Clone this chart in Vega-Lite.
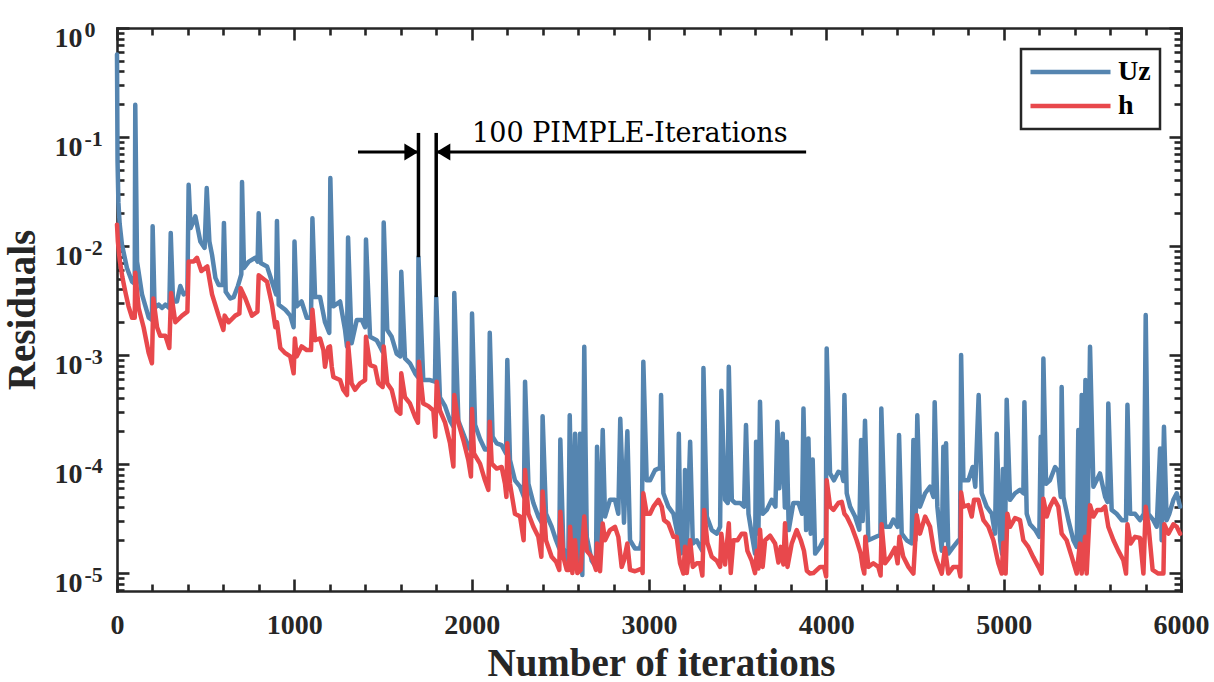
{
"$schema": "https://vega.github.io/schema/vega-lite/v6.json",
"width": 1064, "height": 563,
"autosize": {"type": "none"},
"padding": {"left": 117, "top": 28, "right": 33, "bottom": 91},
"background": "white",
"config": {
 "view": {"stroke": null},
 "axis": {"grid": false, "domainColor": "#262626", "domainWidth": 2.6, "domainCap": "square", "tickColor": "#262626", "tickWidth": 2.6, "labelFont": "Liberation Serif", "labelFontWeight": "bold", "labelFontSize": 28, "labelColor": "#262626", "titleFont": "Liberation Serif", "titleFontWeight": "bold", "titleFontSize": 39, "titleColor": "#262626", "labelFlush": false},
 "legend": {"strokeColor": "#262626", "strokeWidth": 2.5, "fillColor": "white", "padding": 9, "labelFont": "Liberation Serif", "labelFontWeight": "bold", "labelFontSize": 28, "labelColor": "black", "symbolStrokeWidth": 4.5, "symbolType": "M-2.7,0H13.3", "symbolSize": 100, "labelOffset": 60, "rowPadding": 6}
},
"datasets": {
 "res": [
{"i":0,"v":0.57,"s":"Uz"},{"i":3,"v":0.06,"s":"Uz"},{"i":8,"v":0.025,"s":"Uz"},{"i":15,"v":0.016,"s":"Uz"},{"i":28,"v":0.0103,"s":"Uz"},{"i":56,"v":0.0063,"s":"Uz"},{"i":85,"v":0.0047,"s":"Uz"},{"i":100,"v":0.0045,"s":"Uz"},{"i":103,"v":0.198,"s":"Uz"},{"i":113,"v":0.0072,"s":"Uz"},{"i":141,"v":0.0036,"s":"Uz"},{"i":179,"v":0.0022,"s":"Uz"},{"i":197,"v":0.0021,"s":"Uz"},{"i":201,"v":0.0152,"s":"Uz"},{"i":212,"v":0.0027,"s":"Uz"},{"i":235,"v":0.0029,"s":"Uz"},{"i":254,"v":0.0027,"s":"Uz"},{"i":273,"v":0.0029,"s":"Uz"},{"i":295,"v":0.0027,"s":"Uz"},{"i":303,"v":0.0132,"s":"Uz"},{"i":316,"v":0.0031,"s":"Uz"},{"i":338,"v":0.0031,"s":"Uz"},{"i":357,"v":0.0043,"s":"Uz"},{"i":376,"v":0.0036,"s":"Uz"},{"i":397,"v":0.0038,"s":"Uz"},{"i":404,"v":0.0365,"s":"Uz"},{"i":415,"v":0.0146,"s":"Uz"},{"i":442,"v":0.0187,"s":"Uz"},{"i":470,"v":0.011,"s":"Uz"},{"i":494,"v":0.0096,"s":"Uz"},{"i":506,"v":0.034,"s":"Uz"},{"i":521,"v":0.011,"s":"Uz"},{"i":536,"v":0.0083,"s":"Uz"},{"i":555,"v":0.0051,"s":"Uz"},{"i":573,"v":0.0044,"s":"Uz"},{"i":596,"v":0.0044,"s":"Uz"},{"i":603,"v":0.0163,"s":"Uz"},{"i":613,"v":0.0038,"s":"Uz"},{"i":639,"v":0.0033,"s":"Uz"},{"i":658,"v":0.0034,"s":"Uz"},{"i":682,"v":0.0043,"s":"Uz"},{"i":701,"v":0.0055,"s":"Uz"},{"i":705,"v":0.0387,"s":"Uz"},{"i":716,"v":0.0063,"s":"Uz"},{"i":743,"v":0.0072,"s":"Uz"},{"i":780,"v":0.0078,"s":"Uz"},{"i":793,"v":0.0072,"s":"Uz"},{"i":799,"v":0.02,"s":"Uz"},{"i":810,"v":0.007,"s":"Uz"},{"i":846,"v":0.0065,"s":"Uz"},{"i":874,"v":0.0047,"s":"Uz"},{"i":897,"v":0.0036,"s":"Uz"},{"i":902,"v":0.017,"s":"Uz"},{"i":912,"v":0.0029,"s":"Uz"},{"i":949,"v":0.0026,"s":"Uz"},{"i":977,"v":0.0023,"s":"Uz"},{"i":996,"v":0.0018,"s":"Uz"},
{"i":1001,"v":0.011,"s":"Uz"},{"i":1013,"v":0.0028,"s":"Uz"},{"i":1041,"v":0.0031,"s":"Uz"},{"i":1070,"v":0.0022,"s":"Uz"},{"i":1094,"v":0.0022,"s":"Uz"},{"i":1102,"v":0.018,"s":"Uz"},{"i":1117,"v":0.0034,"s":"Uz"},{"i":1145,"v":0.0034,"s":"Uz"},{"i":1173,"v":0.002,"s":"Uz"},{"i":1197,"v":0.0016,"s":"Uz"},{"i":1203,"v":0.042,"s":"Uz"},{"i":1220,"v":0.0028,"s":"Uz"},{"i":1258,"v":0.0031,"s":"Uz"},{"i":1286,"v":0.0017,"s":"Uz"},{"i":1297,"v":0.0012,"s":"Uz"},{"i":1303,"v":0.012,"s":"Uz"},{"i":1323,"v":0.00128,"s":"Uz"},{"i":1352,"v":0.0021,"s":"Uz"},{"i":1380,"v":0.0021,"s":"Uz"},{"i":1399,"v":0.0018,"s":"Uz"},{"i":1404,"v":0.0115,"s":"Uz"},{"i":1427,"v":0.00147,"s":"Uz"},{"i":1464,"v":0.00137,"s":"Uz"},{"i":1483,"v":0.0012,"s":"Uz"},{"i":1498,"v":0.00107,"s":"Uz"},{"i":1504,"v":0.0164,"s":"Uz"},{"i":1524,"v":0.0017,"s":"Uz"},{"i":1549,"v":0.00147,"s":"Uz"},{"i":1577,"v":0.00103,"s":"Uz"},{"i":1598,"v":0.00097,"s":"Uz"},{"i":1603,"v":0.0058,"s":"Uz"},{"i":1624,"v":0.00093,"s":"Uz"},{"i":1652,"v":0.00084,"s":"Uz"},{"i":1681,"v":0.00068,"s":"Uz"},{"i":1696,"v":0.00063,"s":"Uz"},{"i":1700,"v":0.0079,"s":"Uz"},{"i":1727,"v":0.00059,"s":"Uz"},{"i":1765,"v":0.00059,"s":"Uz"},{"i":1793,"v":0.00057,"s":"Uz"},{"i":1800,"v":0.0034,"s":"Uz"},{"i":1821,"v":0.00041,"s":"Uz"},{"i":1850,"v":0.00034,"s":"Uz"},{"i":1878,"v":0.00025,"s":"Uz"},{"i":1897,"v":0.00022,"s":"Uz"},{"i":1902,"v":0.0037,"s":"Uz"},{"i":1925,"v":0.00025,"s":"Uz"},{"i":1953,"v":0.00019,"s":"Uz"},{"i":1981,"v":0.000144,"s":"Uz"},{"i":1996,"v":0.000134,"s":"Uz"},
{"i":2002,"v":0.0024,"s":"Uz"},{"i":2019,"v":0.00023,"s":"Uz"},{"i":2047,"v":0.00017,"s":"Uz"},{"i":2075,"v":0.000136,"s":"Uz"},{"i":2096,"v":0.000136,"s":"Uz"},{"i":2102,"v":0.0016,"s":"Uz"},{"i":2118,"v":0.000178,"s":"Uz"},{"i":2141,"v":0.000155,"s":"Uz"},{"i":2169,"v":0.000149,"s":"Uz"},{"i":2194,"v":0.000125,"s":"Uz"},{"i":2201,"v":0.0009,"s":"Uz"},{"i":2216,"v":0.000109,"s":"Uz"},{"i":2244,"v":0.000071,"s":"Uz"},{"i":2273,"v":0.000062,"s":"Uz"},{"i":2295,"v":0.00005,"s":"Uz"},{"i":2301,"v":0.00057,"s":"Uz"},{"i":2320,"v":0.000066,"s":"Uz"},{"i":2348,"v":0.000044,"s":"Uz"},{"i":2376,"v":0.000033,"s":"Uz"},{"i":2395,"v":0.000029,"s":"Uz"},{"i":2400,"v":0.000275,"s":"Uz"},{"i":2419,"v":0.000035,"s":"Uz"},{"i":2451,"v":0.0000266,"s":"Uz"},{"i":2476,"v":0.00002,"s":"Uz"},{"i":2494,"v":0.0000168,"s":"Uz"},{"i":2500,"v":0.000168,"s":"Uz"},{"i":2517,"v":0.000017,"s":"Uz"},{"i":2545,"v":0.000013,"s":"Uz"},{"i":2553,"v":0.00028,"s":"Uz"},{"i":2568,"v":0.000014,"s":"Uz"},{"i":2583,"v":0.00019,"s":"Uz"},{"i":2596,"v":0.0000107,"s":"Uz"},{"i":2611,"v":0.00019,"s":"Uz"},{"i":2624,"v":0.0000096,"s":"Uz"},{"i":2635,"v":0.00119,"s":"Uz"},{"i":2649,"v":0.0000215,"s":"Uz"},{"i":2677,"v":0.000013,"s":"Uz"},{"i":2701,"v":0.0000114,"s":"Uz"},{"i":2707,"v":0.000144,"s":"Uz"},{"i":2724,"v":0.000016,"s":"Uz"},{"i":2739,"v":0.000205,"s":"Uz"},{"i":2752,"v":0.000033,"s":"Uz"},{"i":2780,"v":0.000047,"s":"Uz"},{"i":2808,"v":0.000047,"s":"Uz"},{"i":2827,"v":0.000035,"s":"Uz"},{"i":2838,"v":0.00026,"s":"Uz"},{"i":2859,"v":0.000029,"s":"Uz"},{"i":2878,"v":0.0002,"s":"Uz"},{"i":2893,"v":0.00002,"s":"Uz"},{"i":2921,"v":0.0000168,"s":"Uz"},{"i":2949,"v":0.0000168,"s":"Uz"},{"i":2959,"v":0.00002,"s":"Uz"},{"i":2968,"v":0.00087,"s":"Uz"},{"i":2987,"v":0.000071,"s":"Uz"},
{"i":3006,"v":0.000071,"s":"Uz"},{"i":3034,"v":0.000088,"s":"Uz"},{"i":3053,"v":0.000091,"s":"Uz"},{"i":3062,"v":0.000091,"s":"Uz"},{"i":3068,"v":0.00043,"s":"Uz"},{"i":3081,"v":0.000054,"s":"Uz"},{"i":3109,"v":0.0000407,"s":"Uz"},{"i":3138,"v":0.000035,"s":"Uz"},{"i":3160,"v":0.000023,"s":"Uz"},{"i":3168,"v":0.00019,"s":"Uz"},{"i":3179,"v":0.0000151,"s":"Uz"},{"i":3198,"v":0.000016,"s":"Uz"},{"i":3203,"v":0.000088,"s":"Uz"},{"i":3213,"v":0.000016,"s":"Uz"},{"i":3232,"v":0.00016,"s":"Uz"},{"i":3247,"v":0.0000187,"s":"Uz"},{"i":3269,"v":0.00002,"s":"Uz"},{"i":3288,"v":0.0000174,"s":"Uz"},{"i":3301,"v":0.000016,"s":"Uz"},{"i":3307,"v":0.00076,"s":"Uz"},{"i":3326,"v":0.000033,"s":"Uz"},{"i":3354,"v":0.0000248,"s":"Uz"},{"i":3382,"v":0.000023,"s":"Uz"},{"i":3401,"v":0.0000266,"s":"Uz"},{"i":3408,"v":0.00047,"s":"Uz"},{"i":3429,"v":0.000047,"s":"Uz"},{"i":3444,"v":0.000044,"s":"Uz"},{"i":3450,"v":0.00078,"s":"Uz"},{"i":3467,"v":0.000047,"s":"Uz"},{"i":3485,"v":0.000044,"s":"Uz"},{"i":3514,"v":0.000044,"s":"Uz"},{"i":3536,"v":0.0000407,"s":"Uz"},{"i":3547,"v":0.000228,"s":"Uz"},{"i":3561,"v":0.000035,"s":"Uz"},{"i":3579,"v":0.000023,"s":"Uz"},{"i":3598,"v":0.0000151,"s":"Uz"},{"i":3604,"v":0.00016,"s":"Uz"},{"i":3617,"v":0.000023,"s":"Uz"},{"i":3626,"v":0.000373,"s":"Uz"},{"i":3641,"v":0.000035,"s":"Uz"},{"i":3664,"v":0.000038,"s":"Uz"},{"i":3692,"v":0.000047,"s":"Uz"},{"i":3713,"v":0.0000407,"s":"Uz"},{"i":3724,"v":0.000244,"s":"Uz"},{"i":3735,"v":0.00006,"s":"Uz"},{"i":3754,"v":0.00019,"s":"Uz"},{"i":3766,"v":0.00004,"s":"Uz"},{"i":3777,"v":0.00016,"s":"Uz"},{"i":3788,"v":0.0000248,"s":"Uz"},{"i":3814,"v":0.000044,"s":"Uz"},{"i":3843,"v":0.000044,"s":"Uz"},{"i":3863,"v":0.000035,"s":"Uz"},{"i":3871,"v":0.000324,"s":"Uz"},{"i":3886,"v":0.0000248,"s":"Uz"},{"i":3899,"v":0.000172,"s":"Uz"},{"i":3912,"v":0.000023,"s":"Uz"},{"i":3923,"v":0.00011,"s":"Uz"},{"i":3937,"v":0.0000151,"s":"Uz"},{"i":3965,"v":0.0000174,"s":"Uz"},{"i":3984,"v":0.00002,"s":"Uz"},{"i":3997,"v":0.00002,"s":"Uz"},
{"i":4002,"v":0.00115,"s":"Uz"},{"i":4021,"v":0.000082,"s":"Uz"},{"i":4043,"v":0.000071,"s":"Uz"},{"i":4068,"v":0.000085,"s":"Uz"},{"i":4087,"v":0.000082,"s":"Uz"},{"i":4096,"v":0.00007,"s":"Uz"},{"i":4102,"v":0.00043,"s":"Uz"},{"i":4115,"v":0.000054,"s":"Uz"},{"i":4134,"v":0.0000407,"s":"Uz"},{"i":4162,"v":0.000033,"s":"Uz"},{"i":4186,"v":0.000025,"s":"Uz"},{"i":4196,"v":0.000166,"s":"Uz"},{"i":4205,"v":0.00003,"s":"Uz"},{"i":4218,"v":0.00025,"s":"Uz"},{"i":4237,"v":0.00002,"s":"Uz"},{"i":4265,"v":0.000021,"s":"Uz"},{"i":4293,"v":0.000022,"s":"Uz"},{"i":4305,"v":0.000022,"s":"Uz"},{"i":4310,"v":0.000324,"s":"Uz"},{"i":4331,"v":0.0000266,"s":"Uz"},{"i":4359,"v":0.0000266,"s":"Uz"},{"i":4378,"v":0.000031,"s":"Uz"},{"i":4402,"v":0.0000266,"s":"Uz"},{"i":4410,"v":0.000185,"s":"Uz"},{"i":4425,"v":0.000023,"s":"Uz"},{"i":4453,"v":0.00002,"s":"Uz"},{"i":4481,"v":0.0000187,"s":"Uz"},{"i":4491,"v":0.000166,"s":"Uz"},{"i":4502,"v":0.00002,"s":"Uz"},{"i":4513,"v":0.00028,"s":"Uz"},{"i":4528,"v":0.0000407,"s":"Uz"},{"i":4557,"v":0.000054,"s":"Uz"},{"i":4585,"v":0.000062,"s":"Uz"},{"i":4604,"v":0.00005,"s":"Uz"},{"i":4611,"v":0.00037,"s":"Uz"},{"i":4626,"v":0.0000407,"s":"Uz"},{"i":4651,"v":0.000016,"s":"Uz"},{"i":4660,"v":0.000144,"s":"Uz"},{"i":4667,"v":0.00002,"s":"Uz"},{"i":4675,"v":0.000155,"s":"Uz"},{"i":4688,"v":0.0000151,"s":"Uz"},{"i":4716,"v":0.0000174,"s":"Uz"},{"i":4745,"v":0.00002,"s":"Uz"},{"i":4754,"v":0.00002,"s":"Uz"},{"i":4760,"v":0.001,"s":"Uz"},{"i":4773,"v":0.000071,"s":"Uz"},{"i":4801,"v":0.000071,"s":"Uz"},{"i":4825,"v":0.000094,"s":"Uz"},{"i":4840,"v":0.000062,"s":"Uz"},{"i":4859,"v":0.00043,"s":"Uz"},{"i":4876,"v":0.000054,"s":"Uz"},{"i":4904,"v":0.0000407,"s":"Uz"},{"i":4933,"v":0.000035,"s":"Uz"},{"i":4951,"v":0.000023,"s":"Uz"},{"i":4961,"v":0.00019,"s":"Uz"},{"i":4980,"v":0.00002,"s":"Uz"},{"i":4991,"v":0.000015,"s":"Uz"},{"i":4996,"v":0.00009,"s":"Uz"},
{"i":5008,"v":0.00002,"s":"Uz"},{"i":5017,"v":0.00039,"s":"Uz"},{"i":5036,"v":0.000047,"s":"Uz"},{"i":5064,"v":0.000054,"s":"Uz"},{"i":5092,"v":0.000058,"s":"Uz"},{"i":5111,"v":0.000054,"s":"Uz"},{"i":5117,"v":0.00037,"s":"Uz"},{"i":5130,"v":0.000035,"s":"Uz"},{"i":5149,"v":0.000028,"s":"Uz"},{"i":5177,"v":0.000025,"s":"Uz"},{"i":5201,"v":0.0000215,"s":"Uz"},{"i":5209,"v":0.000178,"s":"Uz"},{"i":5216,"v":0.00003,"s":"Uz"},{"i":5224,"v":0.00093,"s":"Uz"},{"i":5239,"v":0.000066,"s":"Uz"},{"i":5261,"v":0.000071,"s":"Uz"},{"i":5290,"v":0.000094,"s":"Uz"},{"i":5308,"v":0.000086,"s":"Uz"},{"i":5322,"v":0.00005,"s":"Uz"},{"i":5327,"v":0.00051,"s":"Uz"},{"i":5337,"v":0.00005,"s":"Uz"},{"i":5365,"v":0.0000306,"s":"Uz"},{"i":5393,"v":0.00002,"s":"Uz"},{"i":5412,"v":0.0000174,"s":"Uz"},{"i":5421,"v":0.000205,"s":"Uz"},{"i":5430,"v":0.000016,"s":"Uz"},{"i":5440,"v":0.00043,"s":"Uz"},{"i":5450,"v":0.000018,"s":"Uz"},{"i":5461,"v":0.00059,"s":"Uz"},{"i":5472,"v":0.000018,"s":"Uz"},{"i":5487,"v":0.00119,"s":"Uz"},{"i":5506,"v":0.000062,"s":"Uz"},{"i":5543,"v":0.000082,"s":"Uz"},{"i":5572,"v":0.00005,"s":"Uz"},{"i":5585,"v":0.000045,"s":"Uz"},{"i":5590,"v":0.00036,"s":"Uz"},{"i":5609,"v":0.000038,"s":"Uz"},{"i":5637,"v":0.000035,"s":"Uz"},{"i":5666,"v":0.0000306,"s":"Uz"},{"i":5690,"v":0.0000306,"s":"Uz"},{"i":5698,"v":0.00035,"s":"Uz"},{"i":5713,"v":0.000035,"s":"Uz"},{"i":5741,"v":0.000035,"s":"Uz"},{"i":5769,"v":0.0000306,"s":"Uz"},{"i":5791,"v":0.000035,"s":"Uz"},{"i":5801,"v":0.00233,"s":"Uz"},{"i":5816,"v":0.000035,"s":"Uz"},{"i":5844,"v":0.0000306,"s":"Uz"},{"i":5863,"v":0.0000266,"s":"Uz"},{"i":5882,"v":0.000139,"s":"Uz"},{"i":5891,"v":0.00002,"s":"Uz"},{"i":5904,"v":0.00022,"s":"Uz"},{"i":5919,"v":0.0000306,"s":"Uz"},{"i":5934,"v":0.000035,"s":"Uz"},{"i":5957,"v":0.000047,"s":"Uz"},{"i":5976,"v":0.000054,"s":"Uz"},{"i":5995,"v":0.0000407,"s":"Uz"},
{"i":0,"v":0.0157,"s":"h"},{"i":5,"v":0.011,"s":"h"},{"i":15,"v":0.0075,"s":"h"},{"i":30,"v":0.0052,"s":"h"},{"i":47,"v":0.0038,"s":"h"},{"i":65,"v":0.0028,"s":"h"},{"i":85,"v":0.0022,"s":"h"},{"i":100,"v":0.0022,"s":"h"},{"i":103,"v":0.0057,"s":"h"},{"i":122,"v":0.0027,"s":"h"},{"i":150,"v":0.0018,"s":"h"},{"i":179,"v":0.00104,"s":"h"},{"i":197,"v":0.00084,"s":"h"},{"i":205,"v":0.0033,"s":"h"},{"i":226,"v":0.0018,"s":"h"},{"i":244,"v":0.0015,"s":"h"},{"i":273,"v":0.0015,"s":"h"},{"i":295,"v":0.00116,"s":"h"},{"i":305,"v":0.0037,"s":"h"},{"i":329,"v":0.002,"s":"h"},{"i":367,"v":0.0023,"s":"h"},{"i":397,"v":0.0025,"s":"h"},{"i":404,"v":0.0072,"s":"h"},{"i":432,"v":0.0072,"s":"h"},{"i":451,"v":0.0078,"s":"h"},{"i":476,"v":0.0059,"s":"h"},{"i":498,"v":0.0063,"s":"h"},{"i":509,"v":0.0065,"s":"h"},{"i":536,"v":0.0036,"s":"h"},{"i":573,"v":0.0023,"s":"h"},{"i":600,"v":0.0017,"s":"h"},{"i":607,"v":0.0023,"s":"h"},{"i":630,"v":0.002,"s":"h"},{"i":667,"v":0.0023,"s":"h"},{"i":690,"v":0.0024,"s":"h"},{"i":697,"v":0.0041,"s":"h"},{"i":724,"v":0.0033,"s":"h"},{"i":761,"v":0.0023,"s":"h"},{"i":792,"v":0.0025,"s":"h"},{"i":799,"v":0.0054,"s":"h"},{"i":846,"v":0.0047,"s":"h"},{"i":874,"v":0.0029,"s":"h"},{"i":893,"v":0.0018,"s":"h"},{"i":902,"v":0.002,"s":"h"},{"i":921,"v":0.00116,"s":"h"},{"i":949,"v":0.00104,"s":"h"},{"i":977,"v":0.00097,"s":"h"},{"i":996,"v":0.00068,"s":"h"},
{"i":1003,"v":0.00142,"s":"h"},{"i":1013,"v":0.00097,"s":"h"},{"i":1041,"v":0.0012,"s":"h"},{"i":1070,"v":0.00111,"s":"h"},{"i":1094,"v":0.00111,"s":"h"},{"i":1102,"v":0.0026,"s":"h"},{"i":1117,"v":0.00137,"s":"h"},{"i":1145,"v":0.00142,"s":"h"},{"i":1164,"v":0.00111,"s":"h"},{"i":1173,"v":0.00078,"s":"h"},{"i":1192,"v":0.00118,"s":"h"},{"i":1201,"v":0.0012,"s":"h"},{"i":1211,"v":0.00078,"s":"h"},{"i":1220,"v":0.00063,"s":"h"},{"i":1258,"v":0.00059,"s":"h"},{"i":1276,"v":0.00048,"s":"h"},{"i":1297,"v":0.00043,"s":"h"},{"i":1303,"v":0.00128,"s":"h"},{"i":1323,"v":0.00055,"s":"h"},{"i":1342,"v":0.00048,"s":"h"},{"i":1370,"v":0.00055,"s":"h"},{"i":1399,"v":0.00059,"s":"h"},{"i":1404,"v":0.00147,"s":"h"},{"i":1427,"v":0.00081,"s":"h"},{"i":1455,"v":0.00078,"s":"h"},{"i":1474,"v":0.00055,"s":"h"},{"i":1498,"v":0.00051,"s":"h"},{"i":1504,"v":0.0012,"s":"h"},{"i":1524,"v":0.00055,"s":"h"},{"i":1549,"v":0.00048,"s":"h"},{"i":1577,"v":0.00031,"s":"h"},{"i":1598,"v":0.00029,"s":"h"},{"i":1603,"v":0.00068,"s":"h"},{"i":1624,"v":0.00041,"s":"h"},{"i":1652,"v":0.00036,"s":"h"},{"i":1681,"v":0.00027,"s":"h"},{"i":1697,"v":0.00024,"s":"h"},{"i":1703,"v":0.00087,"s":"h"},{"i":1727,"v":0.00036,"s":"h"},{"i":1756,"v":0.00034,"s":"h"},{"i":1784,"v":0.00031,"s":"h"},{"i":1795,"v":0.000178,"s":"h"},{"i":1803,"v":0.00057,"s":"h"},{"i":1821,"v":0.00031,"s":"h"},{"i":1850,"v":0.00024,"s":"h"},{"i":1878,"v":0.000155,"s":"h"},{"i":1897,"v":0.000095,"s":"h"},{"i":1902,"v":0.00043,"s":"h"},{"i":1925,"v":0.00024,"s":"h"},{"i":1953,"v":0.000166,"s":"h"},{"i":1981,"v":0.000109,"s":"h"},{"i":1996,"v":0.000077,"s":"h"},
{"i":2002,"v":0.00032,"s":"h"},{"i":2013,"v":0.000125,"s":"h"},{"i":2047,"v":0.000101,"s":"h"},{"i":2075,"v":0.000071,"s":"h"},{"i":2094,"v":0.000058,"s":"h"},{"i":2102,"v":0.000245,"s":"h"},{"i":2113,"v":0.000101,"s":"h"},{"i":2141,"v":0.000091,"s":"h"},{"i":2169,"v":0.000094,"s":"h"},{"i":2188,"v":0.000066,"s":"h"},{"i":2196,"v":0.00005,"s":"h"},{"i":2201,"v":0.000155,"s":"h"},{"i":2216,"v":0.000066,"s":"h"},{"i":2244,"v":0.000035,"s":"h"},{"i":2273,"v":0.000033,"s":"h"},{"i":2293,"v":0.00002,"s":"h"},{"i":2301,"v":0.000088,"s":"h"},{"i":2320,"v":0.000035,"s":"h"},{"i":2348,"v":0.0000266,"s":"h"},{"i":2376,"v":0.0000215,"s":"h"},{"i":2393,"v":0.0000141,"s":"h"},{"i":2400,"v":0.000056,"s":"h"},{"i":2419,"v":0.00002,"s":"h"},{"i":2451,"v":0.0000141,"s":"h"},{"i":2476,"v":0.0000127,"s":"h"},{"i":2494,"v":0.0000107,"s":"h"},{"i":2500,"v":0.0000366,"s":"h"},{"i":2517,"v":0.0000141,"s":"h"},{"i":2536,"v":0.0000107,"s":"h"},{"i":2549,"v":0.0000107,"s":"h"},{"i":2555,"v":0.0000266,"s":"h"},{"i":2568,"v":0.00001,"s":"h"},{"i":2583,"v":0.00002,"s":"h"},{"i":2596,"v":0.00001,"s":"h"},{"i":2615,"v":0.0000107,"s":"h"},{"i":2635,"v":0.000033,"s":"h"},{"i":2649,"v":0.000016,"s":"h"},{"i":2677,"v":0.0000141,"s":"h"},{"i":2701,"v":0.0000107,"s":"h"},{"i":2707,"v":0.0000187,"s":"h"},{"i":2724,"v":0.0000104,"s":"h"},{"i":2739,"v":0.0000285,"s":"h"},{"i":2752,"v":0.00002,"s":"h"},{"i":2780,"v":0.0000248,"s":"h"},{"i":2808,"v":0.0000266,"s":"h"},{"i":2827,"v":0.0000215,"s":"h"},{"i":2846,"v":0.0000114,"s":"h"},{"i":2859,"v":0.0000131,"s":"h"},{"i":2878,"v":0.0000187,"s":"h"},{"i":2893,"v":0.0000107,"s":"h"},{"i":2921,"v":0.0000104,"s":"h"},{"i":2959,"v":0.000011,"s":"h"},{"i":2964,"v":0.00001,"s":"h"},{"i":2968,"v":0.000054,"s":"h"},{"i":2987,"v":0.000035,"s":"h"},
{"i":3006,"v":0.000035,"s":"h"},{"i":3025,"v":0.0000407,"s":"h"},{"i":3053,"v":0.000047,"s":"h"},{"i":3072,"v":0.0000407,"s":"h"},{"i":3085,"v":0.0000306,"s":"h"},{"i":3109,"v":0.0000286,"s":"h"},{"i":3138,"v":0.0000215,"s":"h"},{"i":3156,"v":0.0000215,"s":"h"},{"i":3175,"v":0.0000123,"s":"h"},{"i":3194,"v":0.0000099,"s":"h"},{"i":3203,"v":0.0000174,"s":"h"},{"i":3213,"v":0.00001,"s":"h"},{"i":3232,"v":0.00002,"s":"h"},{"i":3247,"v":0.0000114,"s":"h"},{"i":3269,"v":0.0000123,"s":"h"},{"i":3288,"v":0.0000123,"s":"h"},{"i":3301,"v":0.0000095,"s":"h"},{"i":3311,"v":0.000038,"s":"h"},{"i":3329,"v":0.000019,"s":"h"},{"i":3354,"v":0.0000141,"s":"h"},{"i":3382,"v":0.000013,"s":"h"},{"i":3401,"v":0.0000114,"s":"h"},{"i":3408,"v":0.000023,"s":"h"},{"i":3429,"v":0.000012,"s":"h"},{"i":3450,"v":0.0000286,"s":"h"},{"i":3461,"v":0.00001,"s":"h"},{"i":3476,"v":0.00002,"s":"h"},{"i":3499,"v":0.00002,"s":"h"},{"i":3523,"v":0.000023,"s":"h"},{"i":3542,"v":0.000023,"s":"h"},{"i":3555,"v":0.000016,"s":"h"},{"i":3579,"v":0.000013,"s":"h"},{"i":3598,"v":0.00001,"s":"h"},{"i":3608,"v":0.000016,"s":"h"},{"i":3617,"v":0.000011,"s":"h"},{"i":3626,"v":0.000025,"s":"h"},{"i":3641,"v":0.0000114,"s":"h"},{"i":3655,"v":0.00002,"s":"h"},{"i":3683,"v":0.000022,"s":"h"},{"i":3711,"v":0.0000187,"s":"h"},{"i":3730,"v":0.0000125,"s":"h"},{"i":3743,"v":0.0000174,"s":"h"},{"i":3758,"v":0.000012,"s":"h"},{"i":3767,"v":0.0000286,"s":"h"},{"i":3781,"v":0.0000114,"s":"h"},{"i":3805,"v":0.0000187,"s":"h"},{"i":3833,"v":0.0000248,"s":"h"},{"i":3856,"v":0.00002,"s":"h"},{"i":3874,"v":0.000016,"s":"h"},{"i":3890,"v":0.0000105,"s":"h"},{"i":3908,"v":0.0000099,"s":"h"},{"i":3927,"v":0.00001,"s":"h"},{"i":3965,"v":0.0000114,"s":"h"},{"i":3987,"v":0.0000114,"s":"h"},{"i":3999,"v":0.0000093,"s":"h"},
{"i":4002,"v":0.000071,"s":"h"},{"i":4021,"v":0.0000407,"s":"h"},{"i":4040,"v":0.000038,"s":"h"},{"i":4068,"v":0.000044,"s":"h"},{"i":4087,"v":0.000045,"s":"h"},{"i":4102,"v":0.000035,"s":"h"},{"i":4115,"v":0.000033,"s":"h"},{"i":4143,"v":0.0000266,"s":"h"},{"i":4171,"v":0.00002,"s":"h"},{"i":4194,"v":0.0000151,"s":"h"},{"i":4205,"v":0.0000114,"s":"h"},{"i":4214,"v":0.0000099,"s":"h"},{"i":4220,"v":0.0000215,"s":"h"},{"i":4237,"v":0.0000114,"s":"h"},{"i":4265,"v":0.0000123,"s":"h"},{"i":4293,"v":0.0000114,"s":"h"},{"i":4306,"v":0.0000095,"s":"h"},{"i":4312,"v":0.000028,"s":"h"},{"i":4331,"v":0.0000123,"s":"h"},{"i":4359,"v":0.0000141,"s":"h"},{"i":4387,"v":0.000017,"s":"h"},{"i":4402,"v":0.0000123,"s":"h"},{"i":4412,"v":0.0000215,"s":"h"},{"i":4434,"v":0.0000141,"s":"h"},{"i":4463,"v":0.0000114,"s":"h"},{"i":4491,"v":0.0000099,"s":"h"},{"i":4510,"v":0.000034,"s":"h"},{"i":4528,"v":0.000023,"s":"h"},{"i":4557,"v":0.000033,"s":"h"},{"i":4585,"v":0.0000266,"s":"h"},{"i":4607,"v":0.000016,"s":"h"},{"i":4622,"v":0.0000131,"s":"h"},{"i":4651,"v":0.0000099,"s":"h"},{"i":4669,"v":0.000017,"s":"h"},{"i":4688,"v":0.0000099,"s":"h"},{"i":4716,"v":0.0000114,"s":"h"},{"i":4745,"v":0.0000114,"s":"h"},{"i":4756,"v":0.0000093,"s":"h"},{"i":4760,"v":0.000055,"s":"h"},{"i":4773,"v":0.0000407,"s":"h"},{"i":4801,"v":0.000042,"s":"h"},{"i":4820,"v":0.000033,"s":"h"},{"i":4833,"v":0.000047,"s":"h"},{"i":4857,"v":0.000047,"s":"h"},{"i":4886,"v":0.0000306,"s":"h"},{"i":4914,"v":0.0000266,"s":"h"},{"i":4942,"v":0.00002,"s":"h"},{"i":4970,"v":0.0000123,"s":"h"},{"i":4989,"v":0.0000099,"s":"h"},{"i":4998,"v":0.000019,"s":"h"},
{"i":5011,"v":0.0000099,"s":"h"},{"i":5021,"v":0.000035,"s":"h"},{"i":5036,"v":0.0000266,"s":"h"},{"i":5064,"v":0.000032,"s":"h"},{"i":5092,"v":0.0000306,"s":"h"},{"i":5111,"v":0.00002,"s":"h"},{"i":5139,"v":0.0000174,"s":"h"},{"i":5167,"v":0.000014,"s":"h"},{"i":5196,"v":0.0000114,"s":"h"},{"i":5214,"v":0.0000099,"s":"h"},{"i":5224,"v":0.000048,"s":"h"},{"i":5243,"v":0.000033,"s":"h"},{"i":5261,"v":0.0000407,"s":"h"},{"i":5284,"v":0.000048,"s":"h"},{"i":5308,"v":0.0000407,"s":"h"},{"i":5327,"v":0.000023,"s":"h"},{"i":5355,"v":0.00002,"s":"h"},{"i":5384,"v":0.0000141,"s":"h"},{"i":5412,"v":0.0000099,"s":"h"},{"i":5430,"v":0.0000187,"s":"h"},{"i":5440,"v":0.0000099,"s":"h"},{"i":5459,"v":0.0000215,"s":"h"},{"i":5468,"v":0.0000099,"s":"h"},{"i":5487,"v":0.000042,"s":"h"},{"i":5506,"v":0.000033,"s":"h"},{"i":5528,"v":0.000038,"s":"h"},{"i":5553,"v":0.000038,"s":"h"},{"i":5572,"v":0.0000407,"s":"h"},{"i":5590,"v":0.0000266,"s":"h"},{"i":5619,"v":0.00002,"s":"h"},{"i":5647,"v":0.000016,"s":"h"},{"i":5675,"v":0.0000131,"s":"h"},{"i":5690,"v":0.0000099,"s":"h"},{"i":5698,"v":0.000028,"s":"h"},{"i":5716,"v":0.0000187,"s":"h"},{"i":5741,"v":0.0000215,"s":"h"},{"i":5769,"v":0.000021,"s":"h"},{"i":5788,"v":0.0000099,"s":"h"},{"i":5801,"v":0.0000407,"s":"h"},{"i":5816,"v":0.000028,"s":"h"},{"i":5840,"v":0.0000107,"s":"h"},{"i":5872,"v":0.0000099,"s":"h"},{"i":5901,"v":0.0000099,"s":"h"},{"i":5906,"v":0.000028,"s":"h"},{"i":5929,"v":0.000023,"s":"h"},{"i":5957,"v":0.000028,"s":"h"},{"i":5976,"v":0.0000266,"s":"h"},{"i":5995,"v":0.000023,"s":"h"}
 ],
 "hline": [{"a": 1359, "b": 1700, "y": 0.0729}, {"a": 1800, "b": 3886, "y": 0.0729}],
 "vline": [{"x": 1700, "y1": 0.109, "y2": 0.0079}, {"x": 1800, "y1": 0.109, "y2": 0.0034}],
 "arrows": [{"x": 1660, "y": 0.0729, "d": "r"}, {"x": 1840, "y": 0.0729, "d": "l"}],
 "note": [{"x": 2002, "y": 0.0898, "t": "100 PIMPLE-Iterations"}]
},
"resolve": {"axis": {"x": "independent", "y": "independent"}},
"layer": [
 {
  "data": {"name": "res"},
  "transform": [{"filter": "datum.s === 'Uz'"}],
  "mark": {"type": "line", "strokeWidth": 4.5, "strokeJoin": "round", "strokeCap": "round"},
  "encoding": {
   "x": {"field": "i", "type": "quantitative", "scale": {"domain": [0, 6000], "nice": false, "zero": false},
    "axis": {"orient": "bottom", "values": [0, 1000, 2000, 3000, 4000, 5000, 6000], "ticks": false, "domain": true, "format": "d", "labelBaseline": "alphabetic", "labelPadding": 42, "title": "Number of iterations", "titlePadding": 5, "titleX": 544}},
   "y": {"field": "v", "type": "quantitative", "scale": {"type": "log", "domain": [0.00000685, 1], "nice": false},
    "axis": {"orient": "left", "values": [0.00001, 0.0001, 0.001, 0.01, 0.1, 1], "ticks": false, "domain": true, "labelAlign": "right", "labelBaseline": "alphabetic", "labelOffset": 18, "labelPadding": 35, "labelExpr": "'10'", "title": "Residuals", "titlePadding": 12}},
   "color": {"field": "s", "type": "nominal", "scale": {"domain": ["Uz", "h"], "range": ["#5585B0", "#E8484C"]}, "legend": {"title": null, "orient": "none", "legendX": 904, "legendY": 21}}
  }
 },
 {
  "data": {"name": "res"},
  "transform": [{"filter": "datum.s === 'h'"}],
  "mark": {"type": "line", "strokeWidth": 4.5, "strokeJoin": "round", "strokeCap": "round"},
  "encoding": {
   "x": {"field": "i", "type": "quantitative", "axis": {"orient": "bottom", "values": [0, 1000, 2000, 3000, 4000, 5000, 6000], "tickSize": -12, "labels": false, "domain": false, "title": null}},
   "y": {"field": "v", "type": "quantitative", "axis": {"orient": "left", "values": [0.00001, 0.0001, 0.001, 0.01, 0.1, 1], "tickSize": -12, "labels": false, "domain": false, "title": null}},
   "color": {"field": "s", "type": "nominal", "scale": {"domain": ["Uz", "h"], "range": ["#5585B0", "#E8484C"]}, "legend": {"title": null, "orient": "none", "legendX": 904, "legendY": 21}}
  }
 },
 {
  "data": {"name": "hline"},
  "mark": {"type": "rule", "color": "black", "strokeWidth": 3},
  "encoding": {
   "x": {"field": "a", "type": "quantitative", "axis": {"orient": "top", "values": [0, 1000, 2000, 3000, 4000, 5000, 6000], "tickSize": -12, "labels": false, "domain": true, "title": null}},
   "x2": {"field": "b"},
   "y": {"field": "y", "type": "quantitative", "axis": {"orient": "right", "values": [0.00001, 0.0001, 0.001, 0.01, 0.1, 1], "tickSize": -12, "labels": false, "domain": true, "title": null}}
  }
 },
 {
  "data": {"name": "vline"},
  "mark": {"type": "rule", "color": "black", "strokeWidth": 3.5},
  "encoding": {
   "x": {"field": "x", "type": "quantitative", "axis": {"orient": "bottom", "values": [200, 400, 600, 800, 1200, 1400, 1600, 1800, 2200, 2400, 2600, 2800, 3200, 3400, 3600, 3800, 4200, 4400, 4600, 4800, 5200, 5400, 5600, 5800], "tickSize": -7, "labels": false, "domain": false, "title": null}},
   "y": {"field": "y1", "type": "quantitative", "axis": {"orient": "left", "values": [0.000007, 0.000008, 0.000009, 0.00002, 0.00003, 0.00004, 0.00005, 0.00006, 0.00007, 0.00008, 0.00009, 0.0002, 0.0003, 0.0004, 0.0005, 0.0006, 0.0007, 0.0008, 0.0009, 0.002, 0.003, 0.004, 0.005, 0.006, 0.007, 0.008, 0.009, 0.02, 0.03, 0.04, 0.05, 0.06, 0.07, 0.08, 0.09, 0.2, 0.3, 0.4, 0.5, 0.6, 0.7, 0.8, 0.9], "tickSize": -7, "labels": false, "domain": false, "title": null}},
   "y2": {"field": "y2"}
  }
 },
 {
  "data": {"name": "arrows"},
  "mark": {"type": "point", "filled": true, "color": "black", "opacity": 1, "size": 196},
  "encoding": {
   "x": {"field": "x", "type": "quantitative", "axis": {"orient": "top", "values": [200, 400, 600, 800, 1200, 1400, 1600, 1800, 2200, 2400, 2600, 2800, 3200, 3400, 3600, 3800, 4200, 4400, 4600, 4800, 5200, 5400, 5600, 5800], "tickSize": -7, "labels": false, "domain": false, "title": null}},
   "y": {"field": "y", "type": "quantitative", "axis": {"orient": "right", "values": [0.000007, 0.000008, 0.000009, 0.00002, 0.00003, 0.00004, 0.00005, 0.00006, 0.00007, 0.00008, 0.00009, 0.0002, 0.0003, 0.0004, 0.0005, 0.0006, 0.0007, 0.0008, 0.0009, 0.002, 0.003, 0.004, 0.005, 0.006, 0.007, 0.008, 0.009, 0.02, 0.03, 0.04, 0.05, 0.06, 0.07, 0.08, 0.09, 0.2, 0.3, 0.4, 0.5, 0.6, 0.7, 0.8, 0.9], "tickSize": -7, "labels": false, "domain": false, "title": null}},
   "shape": {"field": "d", "type": "nominal", "scale": {"domain": ["r", "l"], "range": ["M-1,-1.2L1,0L-1,1.2Z", "M1,-1.2L-1,0L1,1.2Z"]}, "legend": null}
  }
 },
 {
  "data": {"name": "note"},
  "mark": {"type": "text", "align": "left", "baseline": "alphabetic", "font": "DejaVu Serif", "fontSize": 27, "color": "black"},
  "encoding": {
   "x": {"field": "x", "type": "quantitative", "axis": null},
   "y": {"field": "y", "type": "quantitative", "axis": {"orient": "left", "values": [0.00001, 0.0001, 0.001, 0.01, 0.1, 1], "ticks": false, "domain": false, "labelAlign": "left", "labelBaseline": "alphabetic", "labelOffset": 8, "labelPadding": 33, "labelFontSize": 22, "labelExpr": "'' + round(log(datum.value) / LN10)", "title": null}},
   "text": {"field": "t"}
  }
 }
]
}
